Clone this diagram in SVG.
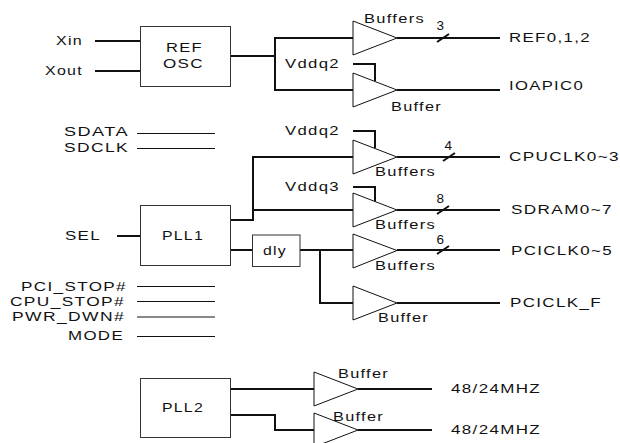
<svg xmlns="http://www.w3.org/2000/svg" width="620" height="443" viewBox="0 0 620 443">
<style>
text{font-family:"Liberation Sans",Arial,sans-serif;font-size:12.5px;fill:#111;letter-spacing:1px}
.d{font-size:13.5px;letter-spacing:0}
.b{fill:#fff;stroke:#333;stroke-width:1}
.t{fill:#fff;stroke:#111;stroke-width:1}
.w{fill:none;stroke:#111;stroke-width:2}
.n{fill:none;stroke:#111;stroke-width:1}
</style>
<rect width="620" height="443" fill="#fff"/>
<g id="connectors">
<path class="w" d="M95 41H140M95 71H140M230 56H275M353 38H275V90H353M397 38H500M397 90H500M353 64H375V81"/>
<path class="w" d="M437 42L449 34"/>
<path class="w" d="M117 236H140M230 220H253V157H353M253 210H353M353 131H375V148M353 187H375V203M397 157H500M397 210H500M443 161L455 153M437 214L449 206"/>
<path class="w" d="M230 250H253M300 250H353M320 250V303H353M397 250H500M397 303H500M437 254L449 246"/>
<path class="n" d="M137 133.500H215M137 148.500H215M137 286.500H215M137 301.500H215M137 317H215M137 336.500H215"/>
<path class="w" d="M230 389H314M230 415H275V430H314M358 389H432M358 430H432"/>
</g>
<g id="ref-osc"><rect class="b" x="140.500" y="26.500" width="90" height="60"/><text x="166" y="52" textLength="37" lengthAdjust="spacingAndGlyphs">REF</text><text x="163" y="68" textLength="41" lengthAdjust="spacingAndGlyphs">OSC</text></g>
<g id="pll1"><rect class="b" x="140.500" y="205.500" width="90" height="60"/><text x="162" y="240" textLength="42" lengthAdjust="spacingAndGlyphs">PLL1</text></g>
<g id="pll2"><rect class="b" x="140.500" y="378.500" width="90" height="59"/><text x="162" y="412" textLength="42" lengthAdjust="spacingAndGlyphs">PLL2</text></g>
<g id="dly"><rect class="b" x="252.500" y="235" width="47.500" height="31.500"/><text x="263" y="255" textLength="24" lengthAdjust="spacingAndGlyphs">dly</text></g>
<g id="buf-ref"><path class="t" d="M353 21L397 38L353 55Z"/><text x="364" y="23" textLength="61" lengthAdjust="spacingAndGlyphs">Buffers</text></g>
<g id="buf-ioapic"><path class="t" d="M353 73L397 90L353 107Z"/><text x="391" y="111" textLength="51" lengthAdjust="spacingAndGlyphs">Buffer</text></g>
<g id="buf-cpu"><path class="t" d="M353 140L397 157L353 174Z"/><text x="375" y="176" textLength="61" lengthAdjust="spacingAndGlyphs">Buffers</text></g>
<g id="buf-sdram"><path class="t" d="M353 193L397 210L353 227Z"/><text x="375" y="229" textLength="61" lengthAdjust="spacingAndGlyphs">Buffers</text></g>
<g id="buf-pci"><path class="t" d="M353 234L397 250.500L353 268Z"/><text x="375" y="270" textLength="61" lengthAdjust="spacingAndGlyphs">Buffers</text></g>
<g id="buf-pcif"><path class="t" d="M353 286L397 303L353 320Z"/><text x="378" y="322" textLength="51" lengthAdjust="spacingAndGlyphs">Buffer</text></g>
<g id="buf-48a"><path class="t" d="M314 372L358 389L314 406Z"/><text x="338" y="378" textLength="51" lengthAdjust="spacingAndGlyphs">Buffer</text></g>
<g id="buf-48b"><path class="t" d="M314 413L358 430L314 447Z"/><text x="333" y="421" textLength="51" lengthAdjust="spacingAndGlyphs">Buffer</text></g>
<g id="labels">
<text x="56" y="45" textLength="27" lengthAdjust="spacingAndGlyphs">Xin</text>
<text x="45" y="75" textLength="38" lengthAdjust="spacingAndGlyphs">Xout</text>
<text x="64" y="136" textLength="65" lengthAdjust="spacingAndGlyphs">SDATA</text>
<text x="64" y="152" textLength="65" lengthAdjust="spacingAndGlyphs">SDCLK</text>
<text x="65" y="240" textLength="36" lengthAdjust="spacingAndGlyphs">SEL</text>
<text x="21" y="291" textLength="106" lengthAdjust="spacingAndGlyphs">PCI_STOP#</text>
<text x="10" y="306" textLength="115" lengthAdjust="spacingAndGlyphs">CPU_STOP#</text>
<text x="12" y="321" textLength="113" lengthAdjust="spacingAndGlyphs">PWR_DWN#</text>
<text x="68" y="340" textLength="56" lengthAdjust="spacingAndGlyphs">MODE</text>
<text x="285" y="68" textLength="55" lengthAdjust="spacingAndGlyphs">Vddq2</text>
<text x="285" y="135" textLength="55" lengthAdjust="spacingAndGlyphs">Vddq2</text>
<text x="285" y="191" textLength="55" lengthAdjust="spacingAndGlyphs">Vddq3</text>
<text class="d" x="436.500" y="30">3</text>
<text class="d" x="444.500" y="150">4</text>
<text class="d" x="436.500" y="203">8</text>
<text class="d" x="436.500" y="244">6</text>
<text x="509" y="42" textLength="82" lengthAdjust="spacingAndGlyphs">REF0,1,2</text>
<text x="509" y="90" textLength="75" lengthAdjust="spacingAndGlyphs">IOAPIC0</text>
<text x="509" y="161" textLength="111" lengthAdjust="spacingAndGlyphs">CPUCLK0~3</text>
<text x="511" y="214" textLength="102" lengthAdjust="spacingAndGlyphs">SDRAM0~7</text>
<text x="511" y="255" textLength="102" lengthAdjust="spacingAndGlyphs">PCICLK0~5</text>
<text x="510" y="307" textLength="92" lengthAdjust="spacingAndGlyphs">PCICLK_F</text>
<text x="451" y="393" textLength="90" lengthAdjust="spacingAndGlyphs">48/24MHZ</text>
<text x="451" y="434" textLength="90" lengthAdjust="spacingAndGlyphs">48/24MHZ</text>
</g>
</svg>
